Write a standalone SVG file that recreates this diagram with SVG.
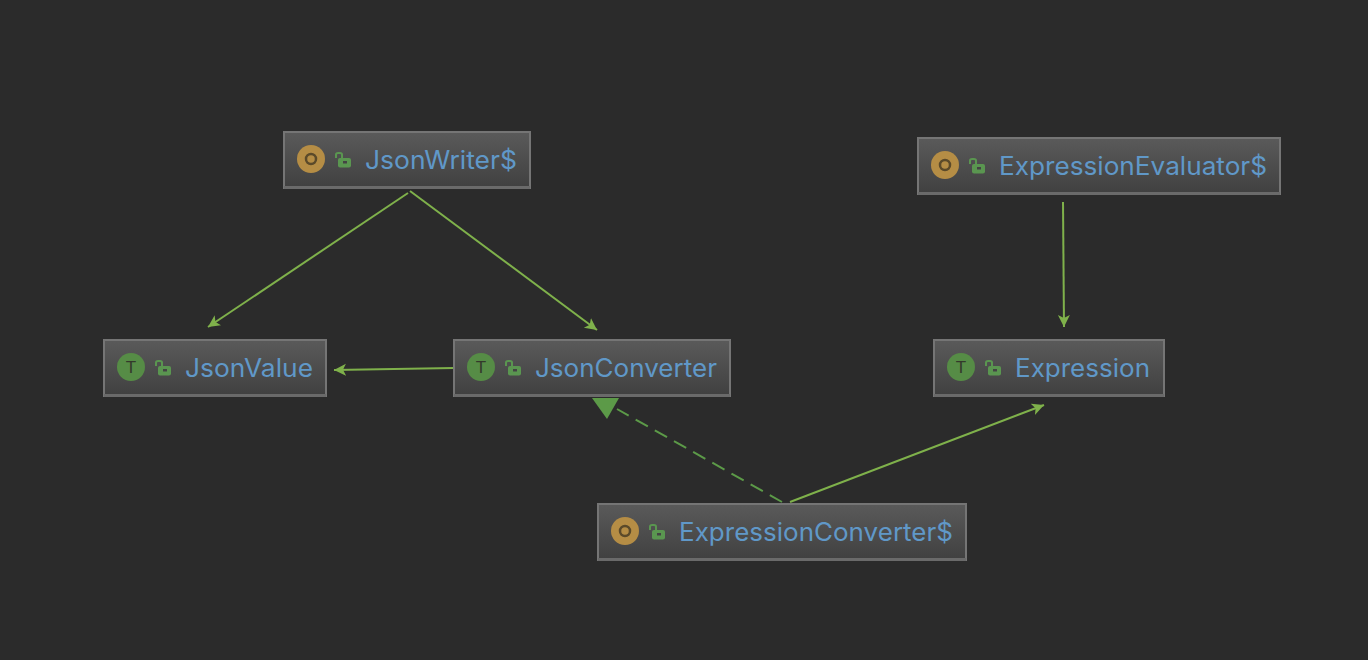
<svg xmlns="http://www.w3.org/2000/svg" width="1368" height="660" viewBox="0 0 1368 660">
<style>
.box{fill:url(#nodeFill);stroke:#757575;stroke-width:2}
.base{fill:#6a6a6a}
.label{font-family:"Inter","Liberation Sans",sans-serif;font-size:25px;fill:#6098c8}
.letter{font-family:"Liberation Sans",sans-serif;font-size:17px;text-anchor:middle;fill:#34382c}
.obj{fill:#b58d45}.trait{fill:#568c46}
.edge{fill:none;stroke:#7fb14b;stroke-width:2}
.dash{fill:none;stroke:#5c9a48;stroke-width:2;stroke-dasharray:14 8}
.lock{fill:#5a9650}.shackle{fill:none;stroke:#5a9650;stroke-width:2}
</style>
<defs>
<linearGradient id="nodeFill" x1="0" y1="0" x2="0" y2="1"><stop offset="0" stop-color="#5a5a5a"/><stop offset="1" stop-color="#404040"/></linearGradient>
<marker id="arrow" markerUnits="userSpaceOnUse" markerWidth="14" markerHeight="13" refX="12" refY="6" orient="auto"><path d="M0 0L12 6L0 12L3 6Z" fill="#7fb14b"/></marker>
<g id="lockIcon"><path class="shackle" d="M1 6V2.500Q1 1 3 1H5Q7 1 7 2.500V6"/><rect class="lock" x="3" y="6" width="13" height="9.500" rx="2"/><rect x="8" y="9" width="4" height="2.500" fill="#444444"/></g>
</defs>
<rect width="1368" height="660" fill="#2b2b2b"/>
<g id="connectors">
<path class="edge" d="M408 193L208 327" marker-end="url(#arrow)"/>
<path class="edge" d="M410 191L597 330" marker-end="url(#arrow)"/>
<path class="edge" d="M454 368L334 370" marker-end="url(#arrow)"/>
<path class="edge" d="M1063 202L1064 327" marker-end="url(#arrow)"/>
<path class="edge" d="M790 502L1044 405" marker-end="url(#arrow)"/>
<path class="dash" d="M782 502L617 409"/>
<path d="M592 398H619L607 419Z" fill="#5c9a48"/>
</g>
<g id="JsonWriter">
<rect class="box" x="284" y="132" width="246" height="56"/><rect class="base" x="284" y="186" width="246" height="3"/>
<circle class="obj" cx="311" cy="159" r="14"/><circle cx="311" cy="159" r="5" fill="none" stroke="#5b4a2a" stroke-width="2.500"/>
<use href="#lockIcon" x="335" y="152"/>
<text class="label" x="365" y="169" textLength="152" lengthAdjust="spacingAndGlyphs">JsonWriter$</text>
</g>
<g id="ExpressionEvaluator">
<rect class="box" x="918" y="138" width="362" height="56"/><rect class="base" x="918" y="192" width="362" height="3"/>
<circle class="obj" cx="945" cy="165" r="14"/><circle cx="945" cy="165" r="5" fill="none" stroke="#5b4a2a" stroke-width="2.500"/>
<use href="#lockIcon" x="969" y="158"/>
<text class="label" x="999" y="175" textLength="268" lengthAdjust="spacingAndGlyphs">ExpressionEvaluator$</text>
</g>
<g id="JsonValue">
<rect class="box" x="104" y="340" width="222" height="56"/><rect class="base" x="104" y="394" width="222" height="3"/>
<circle class="trait" cx="131" cy="367" r="14"/><text class="letter" x="131" y="373">T</text>
<use href="#lockIcon" x="155" y="360"/>
<text class="label" x="185" y="377" textLength="128" lengthAdjust="spacingAndGlyphs">JsonValue</text>
</g>
<g id="JsonConverter">
<rect class="box" x="454" y="340" width="276" height="56"/><rect class="base" x="454" y="394" width="276" height="3"/>
<circle class="trait" cx="481" cy="367" r="14"/><text class="letter" x="481" y="373">T</text>
<use href="#lockIcon" x="505" y="360"/>
<text class="label" x="535" y="377" textLength="182" lengthAdjust="spacingAndGlyphs">JsonConverter</text>
</g>
<g id="Expression">
<rect class="box" x="934" y="340" width="230" height="56"/><rect class="base" x="934" y="394" width="230" height="3"/>
<circle class="trait" cx="961" cy="367" r="14"/><text class="letter" x="961" y="373">T</text>
<use href="#lockIcon" x="985" y="360"/>
<text class="label" x="1015" y="377" textLength="135" lengthAdjust="spacingAndGlyphs">Expression</text>
</g>
<g id="ExpressionConverter">
<rect class="box" x="598" y="504" width="368" height="56"/><rect class="base" x="598" y="558" width="368" height="3"/>
<circle class="obj" cx="625" cy="531" r="14"/><circle cx="625" cy="531" r="5" fill="none" stroke="#5b4a2a" stroke-width="2.500"/>
<use href="#lockIcon" x="649" y="524"/>
<text class="label" x="679" y="541" textLength="274" lengthAdjust="spacingAndGlyphs">ExpressionConverter$</text>
</g>
</svg>
